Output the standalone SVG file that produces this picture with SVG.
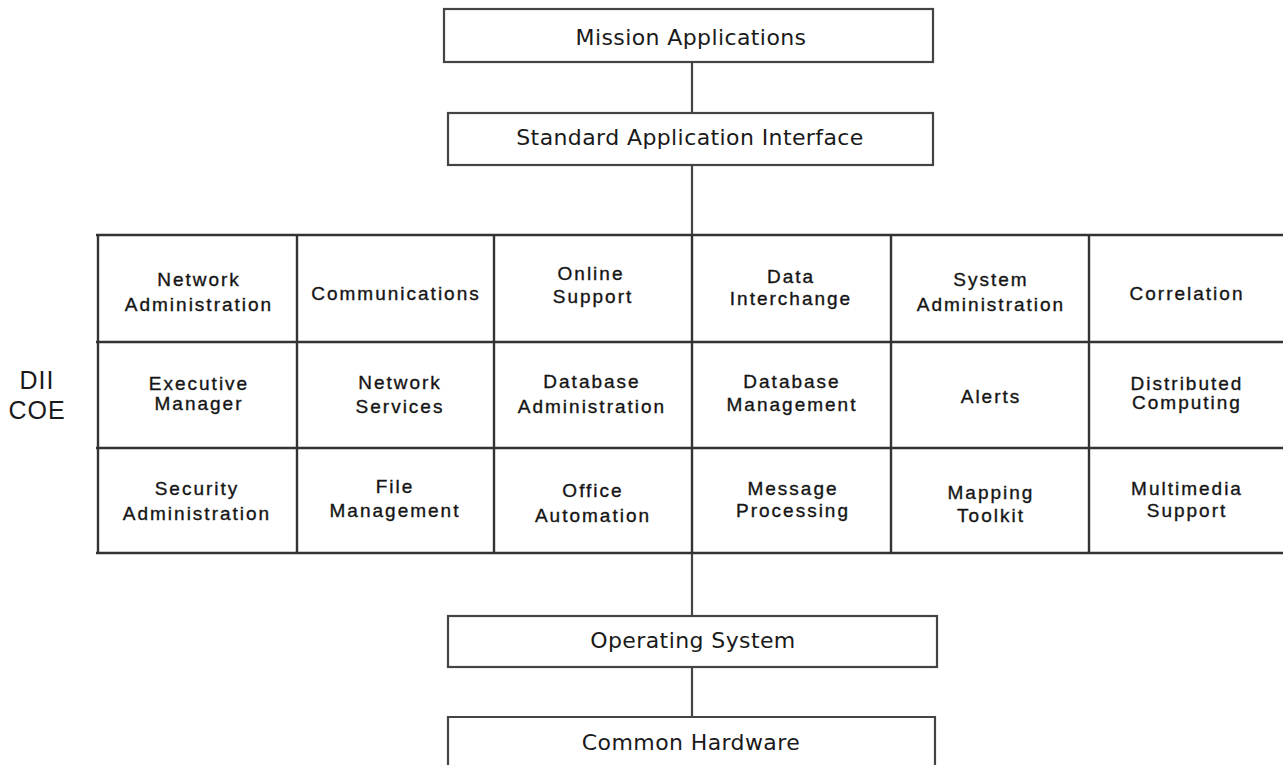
<svg xmlns="http://www.w3.org/2000/svg" width="1283" height="765" viewBox="0 0 1283 765">
  <style>
    .box { fill: #fff; stroke: #444; stroke-width: 2.2; }
    .line { stroke: #444; stroke-width: 2.2; fill: none; }
    .grid { stroke: #333; stroke-width: 2.4; fill: none; }
    .lbl { font-family: "DejaVu Sans", Verdana, sans-serif; font-size: 22px; letter-spacing: 0.4px; fill: #1a1a1a; text-anchor: middle; }
    .cell { font-family: "Liberation Sans", Arial, sans-serif; font-size: 19px; letter-spacing: 2px; fill: #151515; stroke: #151515; stroke-width: 0.35; text-anchor: middle; }
    .side { font-family: "Liberation Sans", Arial, sans-serif; font-size: 25px; letter-spacing: 1px; fill: #1a1a1a; text-anchor: middle; }
  </style>
  <rect width="1283" height="765" fill="#fff"/>

  <!-- vertical connectors between the layers -->
  <g id="connectors">
    <line class="line" x1="692" y1="62" x2="692" y2="113"/>
    <line class="line" x1="692" y1="165" x2="692" y2="235"/>
    <line class="line" x1="692" y1="553" x2="692" y2="616"/>
    <line class="line" x1="692" y1="667" x2="692" y2="717"/>
  </g>

  <g id="mission-applications">
    <rect class="box" x="444" y="9" width="489" height="53"/>
    <text class="lbl" x="691" y="45">Mission Applications</text>
  </g>

  <g id="standard-application-interface">
    <rect class="box" x="448" y="113" width="485" height="52"/>
    <text class="lbl" x="690" y="145">Standard Application Interface</text>
  </g>

  <!-- DII COE component grid (open on the right side) -->
  <g id="coe-grid">
    <line class="grid" x1="96" y1="235" x2="1283" y2="235"/>
    <line class="grid" x1="96" y1="342" x2="1283" y2="342"/>
    <line class="grid" x1="96" y1="448" x2="1283" y2="448"/>
    <line class="grid" x1="96" y1="553" x2="1283" y2="553"/>
    <line class="grid" x1="98" y1="235" x2="98" y2="553"/>
    <line class="grid" x1="297" y1="235" x2="297" y2="553"/>
    <line class="grid" x1="494" y1="235" x2="494" y2="553"/>
    <line class="grid" x1="692" y1="235" x2="692" y2="553"/>
    <line class="grid" x1="891" y1="235" x2="891" y2="553"/>
    <line class="grid" x1="1089" y1="235" x2="1089" y2="553"/>
  </g>

  <g id="dii-coe">
    <text class="side" x="37" y="389">DII</text>
    <text class="side" x="37" y="419">COE</text>
  </g>

  <g id="network-administration"><text class="cell" x="199" y="286">Network</text><text class="cell" x="199" y="311">Administration</text></g>
  <g id="communications"><text class="cell" x="396" y="300">Communications</text></g>
  <g id="online-support"><text class="cell" x="591" y="280">Online</text><text class="cell" x="593" y="303">Support</text></g>
  <g id="data-interchange"><text class="cell" x="791" y="283">Data</text><text class="cell" x="791" y="305">Interchange</text></g>
  <g id="system-administration"><text class="cell" x="991" y="286">System</text><text class="cell" x="991" y="311">Administration</text></g>
  <g id="correlation"><text class="cell" x="1187" y="300">Correlation</text></g>

  <g id="executive-manager"><text class="cell" x="199" y="390">Executive</text><text class="cell" x="199" y="410">Manager</text></g>
  <g id="network-services"><text class="cell" x="400" y="389">Network</text><text class="cell" x="400" y="413">Services</text></g>
  <g id="database-administration"><text class="cell" x="592" y="388">Database</text><text class="cell" x="592" y="413">Administration</text></g>
  <g id="database-management"><text class="cell" x="792" y="388">Database</text><text class="cell" x="792" y="411">Management</text></g>
  <g id="alerts"><text class="cell" x="991" y="403">Alerts</text></g>
  <g id="distributed-computing"><text class="cell" x="1187" y="390">Distributed</text><text class="cell" x="1187" y="409">Computing</text></g>

  <g id="security-administration"><text class="cell" x="197" y="495">Security</text><text class="cell" x="197" y="520">Administration</text></g>
  <g id="file-management"><text class="cell" x="395" y="493">File</text><text class="cell" x="395" y="517">Management</text></g>
  <g id="office-automation"><text class="cell" x="593" y="497">Office</text><text class="cell" x="593" y="522">Automation</text></g>
  <g id="message-processing"><text class="cell" x="793" y="495">Message</text><text class="cell" x="793" y="517">Processing</text></g>
  <g id="mapping-toolkit"><text class="cell" x="991" y="499">Mapping</text><text class="cell" x="991" y="522">Toolkit</text></g>
  <g id="multimedia-support"><text class="cell" x="1187" y="495">Multimedia</text><text class="cell" x="1187" y="517">Support</text></g>

  <g id="operating-system">
    <rect class="box" x="448" y="616" width="489" height="51"/>
    <text class="lbl" x="693" y="648">Operating System</text>
  </g>

  <g id="common-hardware">
    <path class="line" d="M448 768 V717 H935 V768"/>
    <text class="lbl" x="691" y="750">Common Hardware</text>
  </g>
</svg>
